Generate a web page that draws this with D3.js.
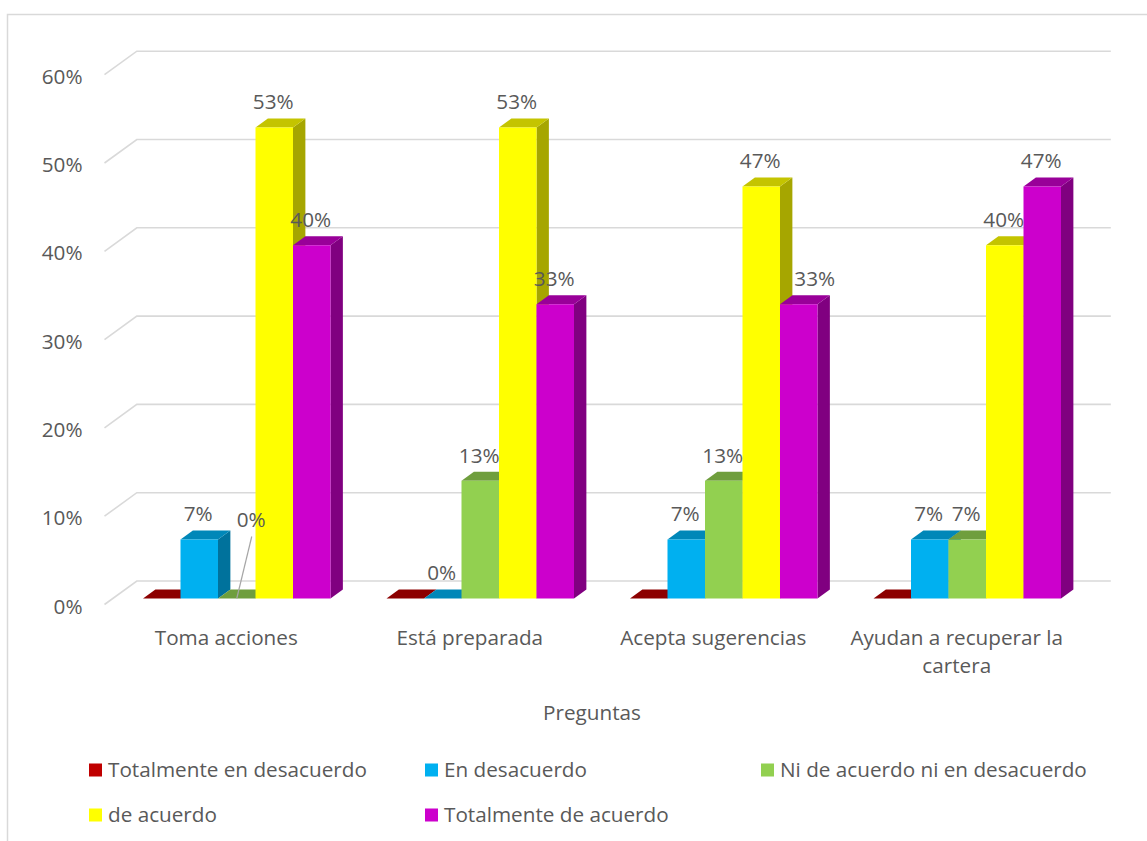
<!DOCTYPE html>
<html>
<head>
<meta charset="utf-8">
<script src="https://cdn.jsdelivr.net/npm/d3@7/dist/d3.min.js"></script>
<style>
  html, body { margin: 0; padding: 0; background: #fff; }
  svg { display: block; }
  text { font-family: "Open Sans", Lato, sans-serif; fill: #595959; }
</style>
</head>
<body>
<svg id="chart" width="1147" height="841"></svg>
<script>
// Survey answers per question (share of respondents)
const categories = ["Toma acciones", "Está preparada", "Acepta sugerencias", "Ayudan a recuperar la cartera"];
const seriesNames = ["Totalmente en desacuerdo", "En desacuerdo", "Ni de acuerdo ni en desacuerdo", "de acuerdo", "Totalmente de acuerdo"];
const totalmenteEnDesacuerdo = [0, 0, 0, 0];
const enDesacuerdo = [0.0667, 0, 0.0667, 0.0667];
const niDeAcuerdoNiEnDesacuerdo = [0, 0.1333, 0.1333, 0.0667];
const deAcuerdo = [0.5333, 0.5333, 0.4667, 0.4000];
const totalmenteDeAcuerdo = [0.4000, 0.3333, 0.3333, 0.4667];
const yTicks = [0, 0.1, 0.2, 0.3, 0.4, 0.5, 0.6];
const xTitle = "Preguntas";

const seriesValues = [totalmenteEnDesacuerdo, enDesacuerdo, niDeAcuerdoNiEnDesacuerdo, deAcuerdo, totalmenteDeAcuerdo];

// face colours: front, top, side
const palette = [
  { front: "#C00000", top: "#8C0000", side: "#7A0000" },
  { front: "#00B0F0", top: "#0087B8", side: "#00729C" },
  { front: "#92D050", top: "#6F9E3D", side: "#5E8834" },
  { front: "#FFFF00", top: "#C4C400", side: "#A6A600" },
  { front: "#CC00CC", top: "#990099", side: "#800080" }
];

const FONT = "20.7px";
const svg = d3.select("#chart");
const fmt = d3.format(".0%");

// oblique projection: depth z moves right k px and up 1 px per unit
const K = 1.375;
const Z_BAR_FRONT = 6, Z_BAR_BACK = 15, Z_WALL = 23.5;

const x = d3.scaleBand().domain(categories).range([104.5, 1078.5]);
const inner = d3.scaleBand().domain(seriesNames).range([30.25, 217.75]);
const y = d3.scaleLinear().domain([0, 0.6]).range([604.5, 74.7]);

const P = (xp, v, z) => [xp + K * z, y(v) - z];
const poly = pts => "M" + pts.map(p => p.join(",")).join("L") + "Z";

// chart frame
svg.append("path")
  .attr("d", "M7.5,845V14.5H1150")
  .attr("fill", "none").attr("stroke", "#D9D9D9").attr("stroke-width", 1.5);

// gridlines: short floor diagonal + back wall line
const grid = svg.append("g").attr("fill", "none").attr("stroke", "#D9D9D9").attr("stroke-width", 1.6);
yTicks.forEach(t => {
  const a = P(x.range()[0], t, 0);
  const b = P(x.range()[0], t, Z_WALL);
  const c = P(x.range()[1], t, Z_WALL);
  grid.append("path").attr("d", `M${a}L${b}L${c}`);
});

// y axis labels
const yAxis = d3.axisLeft(y).tickValues(yTicks).tickFormat(fmt).tickSize(0).tickPadding(22);
const gy = svg.append("g").attr("transform", "translate(104.5,2)").call(yAxis);
gy.select(".domain").remove();
gy.selectAll("text").style("font-size", FONT).attr("fill", "#595959")
  .style("font-family", "'Open Sans', Lato, sans-serif");

// bars
const bars = svg.append("g");
categories.forEach((cat, ci) => {
  seriesNames.forEach((s, si) => {
    const v = seriesValues[si][ci];
    const x0 = x(cat) + inner(s);
    const x1 = x0 + inner.bandwidth();
    const col = palette[si];
    const g = bars.append("g");
    // right side
    g.append("path").attr("fill", col.side).attr("d", poly([
      P(x1, 0, Z_BAR_FRONT), P(x1, 0, Z_BAR_BACK), P(x1, v, Z_BAR_BACK), P(x1, v, Z_BAR_FRONT)
    ]));
    // top
    g.append("path").attr("fill", col.top).attr("d", poly([
      P(x0, v, Z_BAR_FRONT), P(x0, v, Z_BAR_BACK), P(x1, v, Z_BAR_BACK), P(x1, v, Z_BAR_FRONT)
    ]));
    // front
    if (v > 0) {
      g.append("path").attr("fill", col.front).attr("d", poly([
        P(x0, 0, Z_BAR_FRONT), P(x1, 0, Z_BAR_FRONT), P(x1, v, Z_BAR_FRONT), P(x0, v, Z_BAR_FRONT)
      ]));
    }
  });
});

// data labels (the first series carries none)
const nudges = {
  "0-2": { dx: 15.5, dy: -53.5, leader: true },
  "2-4": { dx: 17, dy: 0 }
};
const labels = svg.append("g").style("font-size", FONT);
categories.forEach((cat, ci) => {
  seriesNames.forEach((s, si) => {
    if (si === 0) return;
    const v = seriesValues[si][ci];
    const cx = x(cat) + inner(s) + inner.bandwidth() / 2;
    const top = P(cx, v, Z_BAR_BACK);
    const n = nudges[ci + "-" + si] || { dx: 0, dy: 0 };
    const lx = cx + K * Z_BAR_FRONT - 1 + n.dx;
    const ly = top[1] - 16.5 + n.dy;
    if (n.leader) {
      const base = P(cx, v, Z_BAR_FRONT);
      labels.append("line")
        .attr("x1", lx + 0.5).attr("y1", ly + 17)
        .attr("x2", base[0]).attr("y2", base[1])
        .attr("stroke", "#A6A6A6").attr("stroke-width", 1.2);
    }
    labels.append("text")
      .attr("x", lx).attr("y", ly).attr("dy", "0.35em")
      .attr("text-anchor", "middle")
      .text(fmt(v));
  });
});

// category labels with wrapping
const catG = svg.append("g").style("font-size", FONT);
categories.forEach(cat => {
  const cx = x(cat) + x.bandwidth() / 2;
  const t = catG.append("text").attr("text-anchor", "middle").attr("x", cx).attr("y", 638)
    .attr("dy", "0.35em");
  const words = cat.split(" ");
  let line = [];
  let ts = t.append("tspan").attr("x", cx);
  words.forEach(w => {
    line.push(w);
    ts.text(line.join(" "));
    if (ts.node().getComputedTextLength() > 232 && line.length > 1) {
      line.pop();
      ts.text(line.join(" "));
      line = [w];
      ts = t.append("tspan").attr("x", cx).attr("dy", 28).text(w);
    }
  });
});

// axis title
svg.append("text").attr("x", 592).attr("y", 713).attr("dy", "0.35em")
  .attr("text-anchor", "middle").style("font-size", FONT).text(xTitle);

// legend
const legendPos = [
  [89, 770], [425, 770], [761, 770],
  [89, 815], [425, 815]
];
const lg = svg.append("g").style("font-size", FONT);
seriesNames.forEach((s, i) => {
  const [lx, ly] = legendPos[i];
  lg.append("rect").attr("x", lx).attr("y", ly - 6.5).attr("width", 13).attr("height", 13)
    .attr("fill", palette[i].front);
  lg.append("text").attr("x", lx + 19).attr("y", ly).attr("dy", "0.35em").text(s);
});
</script>
</body>
</html>
